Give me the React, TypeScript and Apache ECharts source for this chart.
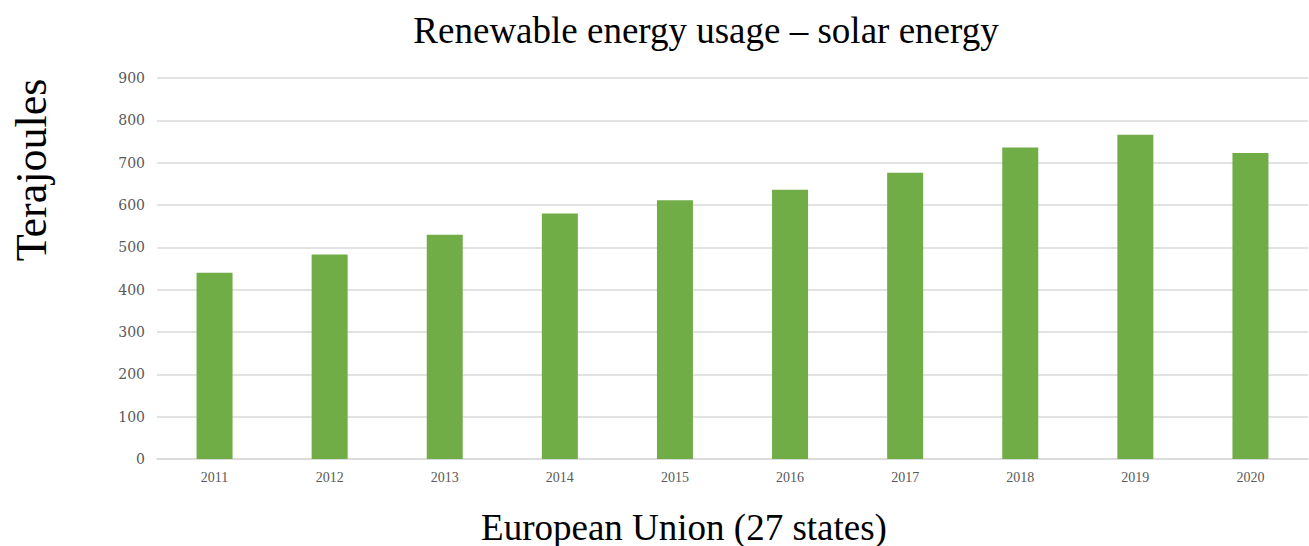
import React, { useEffect, useRef } from "react";
import * as echarts from "echarts";

// Solar energy usage in the EU-27, in terajoules
const years = ["2011", "2012", "2013", "2014", "2015", "2016", "2017", "2018", "2019", "2020"];
const solarTJ = [440, 483, 530, 580, 611, 636, 676, 736, 766, 723];

const titleText = "Renewable energy usage – solar energy";
const yAxisTitle = "Terajoules";
const xAxisTitle = "European Union (27 states)";

const W = 1309;
const H = 546;

export default function App() {
  const ref = useRef<HTMLDivElement>(null);

  useEffect(() => {
    if (!ref.current) return;
    const chart = echarts.init(ref.current, null, { renderer: "svg" });
    chart.setOption({
      animation: false,
      backgroundColor: "#ffffff",
      graphic: [
        {
          type: "text",
          x: 706,
          y: 30,
          style: {
            text: titleText,
            fontFamily: "Liberation Serif",
            fontSize: 37,
            fill: "#000000",
            align: "center",
            verticalAlign: "middle",
          },
        },
        {
          type: "text",
          x: 31,
          y: 170,
          rotation: Math.PI / 2,
          style: {
            text: yAxisTitle,
            fontFamily: "Liberation Serif",
            fontSize: 44,
            fill: "#000000",
            align: "center",
            verticalAlign: "middle",
          },
        },
        {
          type: "text",
          x: 684,
          y: 527,
          style: {
            text: xAxisTitle,
            fontFamily: "Liberation Serif",
            fontSize: 37,
            fill: "#000000",
            align: "center",
            verticalAlign: "middle",
          },
        },
      ],
      grid: { left: 157, right: 1, top: 78, bottom: 87, containLabel: false },
      xAxis: {
        type: "category",
        data: years,
        axisLine: { show: true, lineStyle: { color: "#d9d9d9", width: 1.5 } },
        axisTick: { show: false },
        axisLabel: {
          margin: 11,
          fontFamily: "Liberation Serif",
          fontSize: 14,
          color: "#595959",
        },
      },
      yAxis: {
        type: "value",
        min: 0,
        max: 900,
        interval: 100,
        axisLine: { show: false },
        axisTick: { show: false },
        splitLine: { lineStyle: { color: "#d9d9d9", width: 1.5 } },
        axisLabel: {
          margin: 12,
          fontFamily: "DejaVu Serif",
          fontSize: 14,
          color: "#595959",
        },
      },
      series: [
        {
          type: "bar",
          data: solarTJ,
          barWidth: 36,
          itemStyle: { color: "#70ad47" },
        },
      ],
    });
    return () => chart.dispose();
  }, []);

  return (
    <div
      ref={ref}
      style={{ position: "fixed", left: 0, top: 0, width: W, height: H, background: "#fff" }}
    />
  );
}
